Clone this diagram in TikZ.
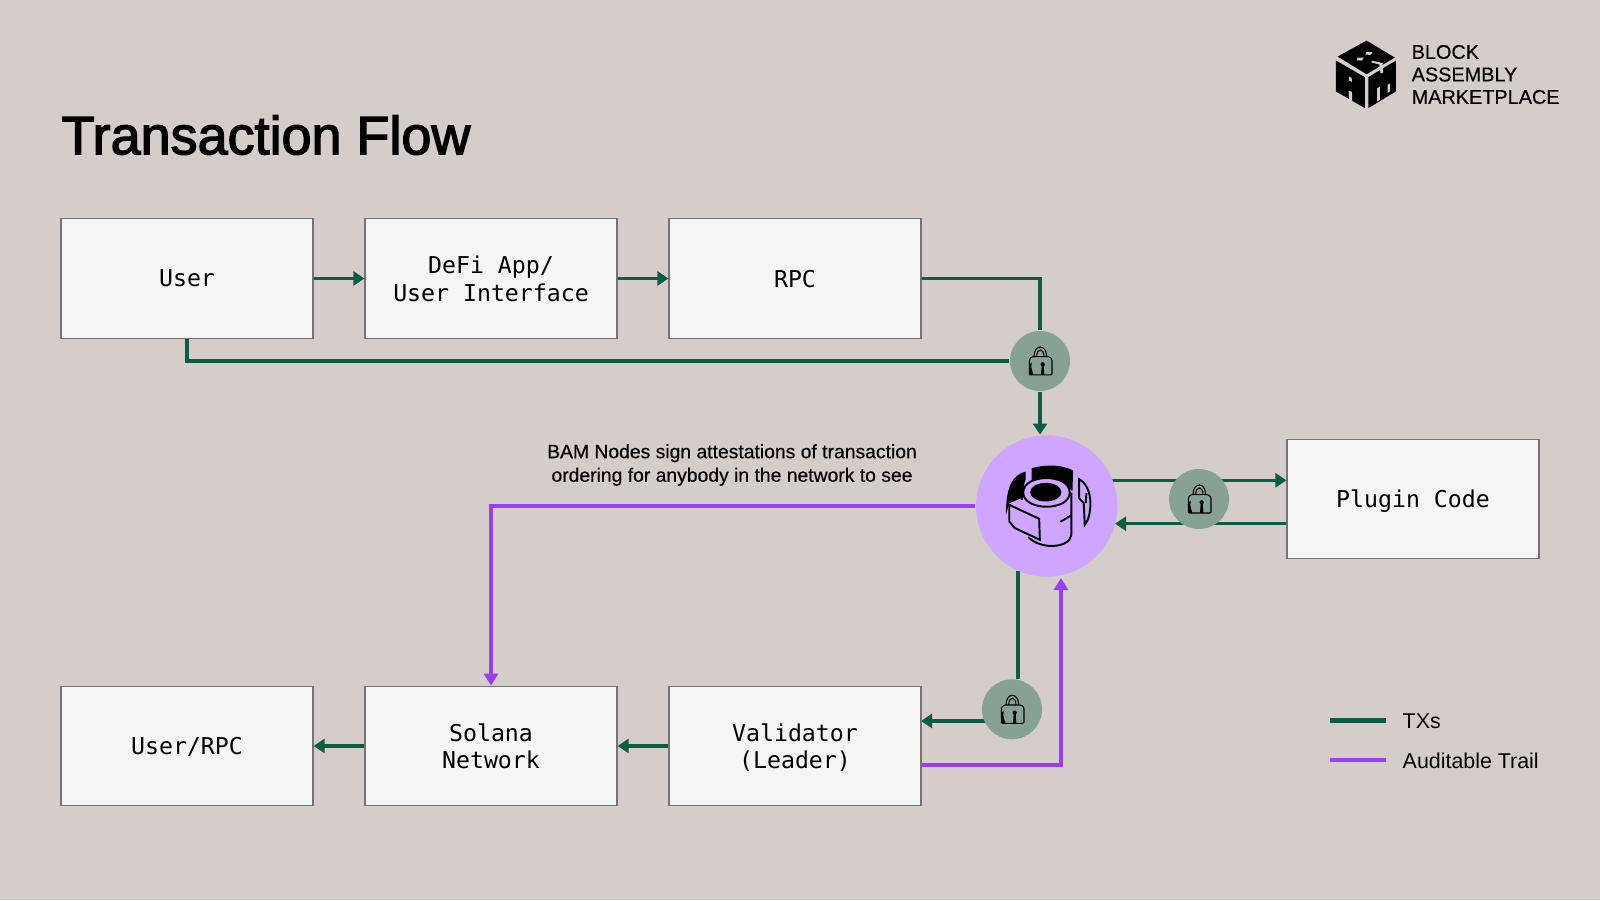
\documentclass[tikz,border=0pt]{standalone}
\usepackage{fontspec}
\setmainfont{Liberation Sans}
\newfontfamily\boxfont{DejaVu Sans Mono}
\newfontfamily\titlefont[FakeBold=2.5]{Liberation Sans}
\newfontfamily\notefont[FakeBold=0.4]{Liberation Sans}
\usetikzlibrary{arrows.meta, backgrounds}

\definecolor{bgcol}{HTML}{D4CDCA}
\definecolor{txgreen}{HTML}{0F5C43}
\definecolor{auditpurple}{HTML}{9A3DF5}
\definecolor{bampurple}{HTML}{CFA6FF}
\definecolor{lockgreen}{HTML}{87A294}
\definecolor{boxfill}{HTML}{F5F5F3}

\tikzstyle{element}=[rectangle, draw=black!55, line width=0.35pt, fill=boxfill,
                     minimum width=2.52cm, minimum height=1.195cm, inner sep=0,
                     align=center, text depth=0pt, font=\boxfont\fontsize{6.6}{7.8}\selectfont]
\tikzstyle{lockdot}=[circle, fill=lockgreen, minimum size=0.6cm, inner sep=0]
\tikzstyle{textonly}=[inner sep=0, align=center]
\tikzstyle{tx}=[line width=0.9pt, draw=txgreen, -{Triangle[length=0.11cm, width=0.14cm]}]
\tikzstyle{audit}=[line width=0.88pt, draw=auditpurple, -{Triangle[length=0.12cm, width=0.14cm]}]
\tikzstyle{zoomed}=[x=0.003333cm, y=-0.003333cm]

\newcommand{\lockicon}[1]{
  \begin{scope}[shift={(#1.center)}, zoomed, line width=0.3pt]
    \draw[rounded corners=0.3pt] (-32, 42) -- (-32, -5) -- (-24, -13) -- (28, -13) -- (36, -5) -- (36, 42) -- cycle;
    \draw (-18, -13) .. controls (-18, -52) and (20, -52) .. (20, -13);
    \draw (-10, -13) .. controls (-10, -40) and (12, -40) .. (12, -13);
    \fill (-32, 12) -- (-25, 4) -- (-26, 20) -- (-20, 42) -- (-32, 42) -- cycle;
    \fill (8, 10) circle (6.5);
    \fill (5, 12) -- (11, 12) -- (13, 42) -- (3, 42) -- cycle;
  \end{scope}
}

\begin{document}
\begin{tikzpicture}
  \useasboundingbox (0, 0) rectangle (16, 9);

  \node (User) at (1.87, 6.215) [element] {User};
  \node (DeFi) at (4.91, 6.215) [element] {DeFi App/\\User Interface};
  \node (RPC) at (7.95, 6.215) [element] {RPC};
  \node (Plugin) at (14.13, 4.01) [element] {Plugin Code};
  \node (UserRPC) at (1.87, 1.54) [element] {User/RPC};
  \node (Solana) at (4.91, 1.54) [element] {Solana\\Network};
  \node (Validator) at (7.95, 1.54) [element] {Validator\\(Leader)};

  \node (BAM) at (10.467, 3.94) [circle, fill=bampurple, minimum size=1.414cm, inner sep=0] {};
  \node (LockTop) at (10.40, 5.39) [lockdot] {};
  \node (LockPlugin) at (11.99, 4.01) [lockdot] {};
  \node (LockLeader) at (10.12, 1.907) [lockdot] {};

  \coordinate (bam_out) at (11.12, 4.197);
  \coordinate (bam_in) at (11.15, 3.763);
  \coordinate (bam_down) at (10.18, 3.29);
  \coordinate (val_in) at (9.21, 1.79);
  \coordinate (val_out) at (9.21, 1.35);
  \coordinate (bam_trail) at (10.61, 3.22);

  %%%%%%%%%%%%%%%%%%%%%%%%%%%%%%
  % connectors
  \begin{pgfonlayer}{background}
    \fill[bgcol] (0, 0) rectangle (16, 9);
    \draw [tx] (User) to (DeFi);
    \draw [tx] (DeFi) to (RPC);
    \draw [tx, -] (RPC.east) -| (LockTop.north);
    \draw [tx, -] (User.south) |- (LockTop.west);
    \draw [tx] (LockTop.south) to (LockTop.south |- BAM.north);
    \draw [tx] (bam_out) to (bam_out -| Plugin.west);
    \draw [tx] (bam_in -| Plugin.west) to (bam_in);
    \draw [tx, -] (bam_down) to (bam_down |- LockLeader.north);
    \draw [tx] (val_in -| LockLeader.center) to (val_in);
    \draw [tx] (Validator) to (Solana);
    \draw [tx] (Solana) to (UserRPC);
    \draw [audit] (val_out) -| (bam_trail);
    \draw [audit] (BAM.west) -| (Solana.north);
  \end{pgfonlayer}

  %%%%%%%%%%%%%%%%%%%%%%%%%%%%%%
  % locks
  \lockicon{LockTop}
  \lockicon{LockPlugin}
  \lockicon{LockLeader}

  %%%%%%%%%%%%%%%%%%%%%%%%%%%%%%
  % bam node icon
  \begin{scope}[shift={(9.6, 4.8)}, zoomed, line width=0.55pt]
    \fill (215, 145) .. controls (260, 132) and (310, 135) .. (340, 152) -- (338, 215)
          .. controls (310, 170) and (250, 165) .. (215, 182) -- cycle;
    \fill (197, 155) .. controls (160, 165) and (138, 195) .. (138, 285) -- (148, 250)
          -- (185, 235) .. controls (192, 205) and (192, 190) .. (197, 180) -- cycle;
    \draw[fill=bampurple] (190, 218) .. controls (190, 160) and (330, 160) .. (330, 218)
          .. controls (330, 275) and (190, 275) .. (190, 218) -- cycle;
    \fill (258, 217) ellipse (47 and 28);
    \draw (190, 218) -- (185, 240);
    \draw (335, 218) -- (335, 345) .. controls (330, 385) and (245, 392) .. (205, 352);
    \draw (148, 255) -- (238, 297) -- (240, 360) -- (165, 325) -- (148, 305) -- cycle;
    \draw (302, 306) -- (335, 286);
    \draw (358, 178) .. controls (378, 188) and (392, 215) .. (392, 250)
          .. controls (392, 280) and (385, 305) .. (375, 315) -- (372, 250) -- (358, 235) -- cycle;
    \draw (380, 220) -- (378, 250);
  \end{scope}

  %%%%%%%%%%%%%%%%%%%%%%%%%%%%%%
  % texts
  \node (title) at (0.61, 7.65) [textonly, anchor=west, font=\titlefont\fontsize{15.35}{18}\selectfont] {Transaction Flow};
  \node (note) at (7.32, 4.35) [textonly, font=\notefont\fontsize{5.5}{6.7}\selectfont] {BAM Nodes sign attestations of transaction\\ordering for anybody in the network to see};
  \node (brand) at (14.11, 8.255) [textonly, anchor=west, align=left, font=\notefont\fontsize{5.65}{6.4}\selectfont] {BLOCK\\ASSEMBLY\\MARKETPLACE};

  %%%%%%%%%%%%%%%%%%%%%%%%%%%%%%
  % logo
  \begin{scope}[shift={(13.2, 8.8)}, zoomed]
    \fill (140, 62) -- (225, 113) -- (140, 163) -- (53, 110) -- cycle;
    \fill (48, 122) -- (135, 172) -- (135, 265) -- (48, 215) -- cycle;
    \fill (145, 172) -- (228, 122) -- (228, 215) -- (145, 265) -- cycle;
    \fill[bgcol] (140, 96) -- (158, 97) -- (152, 105) -- (136, 104) -- cycle;
    \fill[bgcol] (113, 113) -- (132, 113) -- (126, 122) -- (110, 121) -- cycle;
    \fill[bgcol] (155, 122) -- (190, 130) -- (187, 136) -- (155, 128) -- cycle;
    \fill[bgcol] (178, 132) -- (186, 132) -- (190, 160) -- (182, 160) -- cycle;
    \fill[bgcol] (87, 170) -- (95, 174) -- (96, 186) -- (87, 182) -- cycle;
    \fill[bgcol] (86, 212) -- (96, 216) -- (97, 245) -- (87, 240) -- cycle;
    \fill[bgcol] (172, 205) -- (180, 201) -- (180, 240) -- (172, 245) -- cycle;
    \fill[bgcol] (203, 195) -- (210, 191) -- (210, 215) -- (203, 219) -- cycle;
  \end{scope}

  %%%%%%%%%%%%%%%%%%%%%%%%%%%%%%
  % legends
  \coordinate (leg_tx_a) at (13.30, 1.796);
  \coordinate (leg_tx_b) at (13.86, 1.796);
  \coordinate (leg_au_a) at (13.30, 1.40);
  \coordinate (leg_au_b) at (13.86, 1.40);
  \draw [line width=1.4pt, draw=txgreen] (leg_tx_a) to (leg_tx_b);
  \draw [line width=1.4pt, draw=auditpurple] (leg_au_a) to (leg_au_b);
  \node (leg_tx) at (14.02, 1.79) [textonly, anchor=west, font=\fontsize{6.09}{7}\selectfont] {TXs};
  \node (leg_au) at (14.02, 1.39) [textonly, anchor=west, font=\fontsize{6.09}{7}\selectfont] {Auditable Trail};
\end{tikzpicture}
\end{document}
